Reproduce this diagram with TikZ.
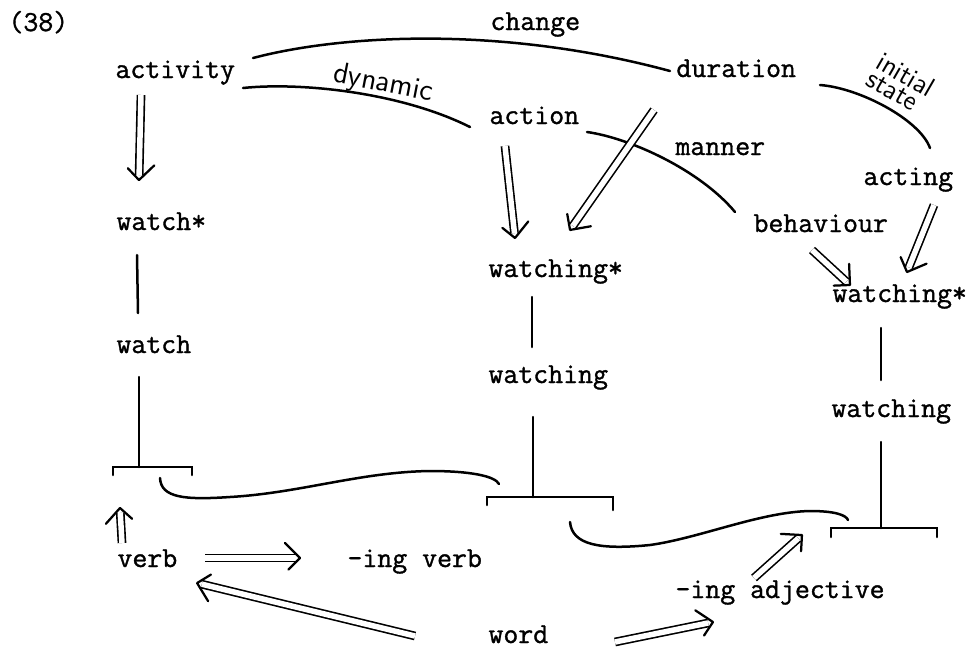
\documentclass[tikz,border=0pt]{standalone}
\usepackage{fontspec}
\setmonofont[FakeBold=1.2]{Latin Modern Mono}
\usepackage{tikz}
\usetikzlibrary{arrows.meta,calc,decorations.markings}

\begin{document}
\begin{tikzpicture}[
    x=0.4pt, y=-0.4pt,
    term/.style={anchor=base west, inner sep=0pt, font=\fontsize{11.6}{13}\selectfont\ttfamily},
    hand/.style={inner sep=0pt, font=\fontsize{11}{11}\selectfont\sffamily},
    link/.style={line width=1pt, line cap=round},
    imp/.style={double, double distance=2.2pt, line width=0.65pt, shorten >=2pt,
      postaction={decorate, decoration={markings, mark=at position 1 with
        {\draw[black, line width=0.9pt, line cap=round, line join=round] (-6pt,6pt) -- (0pt,0pt) -- (-6pt,-6pt);}}}}
]
\useasboundingbox (0,0) rectangle (969,649);

% words
\node[term] (num) at (8,31) {(38)};
\node[term] (change) at (490,30) {change};
\node[term] (activity) at (115,78) {activity};
\node[term] (duration) at (676,77) {duration};
\node[term] (action) at (489,124) {action};
\node[term] (manner) at (675,155) {manner};
\node[term] (acting) at (863,185) {acting};
\node[term] (watchstar) at (116,230) {watch*};
\node[term] (behaviour) at (753,232) {behaviour};
\node[term] (ingstarA) at (488,277) {watching*};
\node[term] (ingstarB) at (832,302) {watching*};
\node[term] (watch) at (116,353) {watch};
\node[term] (ingA) at (488,383) {watching};
\node[term] (ingB) at (831,417) {watching};
\node[term] (verb) at (117,567) {verb};
\node[term] (ingverb) at (347,567) {-ing verb};
\node[term] (ingadj) at (675,598) {-ing adjective};
\node[term] (word) at (488,643) {word};

% brackets
\draw[link] (113,475) -- (113,467) -- (192,467) -- (192,475);
\draw[link] (487,505) -- (487,497) -- (613,497) -- (613,510);
\draw[link] (831,537) -- (831,528) -- (937,528) -- (937,537);
\coordinate (topL) at (139,467);
\coordinate (topA) at (533,497);
\coordinate (topB) at (881,528);
\coordinate (outL) at (160,478);
\coordinate (inA) at (499,484);
\coordinate (outA) at (570,522);
\coordinate (inB) at (848,520);
\coordinate (underL) at (120,508);
\coordinate (underB) at (802,535);

% semantic links
\draw[link] ($(activity.base west)+(138,-20)$) .. controls (340,35) and (500,25) .. ($(duration.base west)+(-6,-6)$);
\draw[link] ($(activity.base west)+(128,10)$) .. controls (300,82) and (400,92) .. ($(action.base west)+(-19,3)$);
\draw[link] ($(action.base west)+(98,8)$) .. controls (630,138) and (700,170) .. ($(behaviour.base west)+(-18,-20)$);
\draw[link] ($(duration.base west)+(144,8)$) .. controls (860,88) and (920,120) .. ($(acting.base west)+(67,-37)$);
\node[hand, rotate=-11, font=\fontsize{12}{12}\selectfont\sffamily] (dyn) at (383,84) {dynamic};
\node[hand, rotate=-30, align=left] (init) at (901,83) {initial\\[-3pt]state};

% vertical links
\draw[link] ($(watchstar.base west)+(21,25)$) -- ($(watch.base west)+(22,-40)$);
\draw[link] ($(watch.base west)+(23,24)$) -- (topL);
\draw[link] ($(ingstarA.base west)+(44,20)$) -- ($(ingA.base west)+(44,-36)$);
\draw[link] ($(ingA.base west)+(45,34)$) -- (topA);
\draw[link] ($(ingstarB.base west)+(49,26)$) -- ($(ingB.base west)+(50,-37)$);
\draw[link] ($(ingB.base west)+(50,25)$) -- (topB);

% bracket curves
\draw[link] (outL) .. controls (161,498) and (185,500) .. (230,497)
  .. controls (300,493) and (360,472) .. (430,471)
  .. controls (470,471) and (495,476) .. (inA);
\draw[link] (outA) .. controls (572,545) and (600,550) .. (650,545)
  .. controls (700,538) and (760,512) .. (810,511)
  .. controls (835,511) and (846,515) .. (inB);

% double arrows
\draw[imp] ($(activity.base west)+(26,17)$) -- ($(watchstar.base west)+(23,-50)$);
\draw[imp] ($(action.base west)+(16,22)$) -- ($(ingstarA.base west)+(27,-39)$);
\draw[imp] ($(duration.base west)+(-22,33)$) -- ($(ingstarA.base west)+(82,-47)$);
\draw[imp] ($(acting.base west)+(71,20)$) -- ($(ingstarB.base west)+(75,-30)$);
\draw[imp] ($(behaviour.base west)+(59,18)$) -- ($(ingstarB.base west)+(18,-17)$);
\draw[imp] ($(verb.base west)+(5,-24)$) -- (underL);
\draw[imp] ($(verb.base west)+(88,-9)$) -- ($(ingverb.base west)+(-47,-9)$);
\draw[imp] ($(word.base west)+(-73,-7)$) -- ($(verb.base west)+(80,16)$);
\draw[imp] ($(word.base west)+(127,-1)$) -- ($(ingadj.base west)+(38,24)$);
\draw[imp] ($(ingadj.base west)+(79,-20)$) -- (underB);
\end{tikzpicture}
\end{document}
